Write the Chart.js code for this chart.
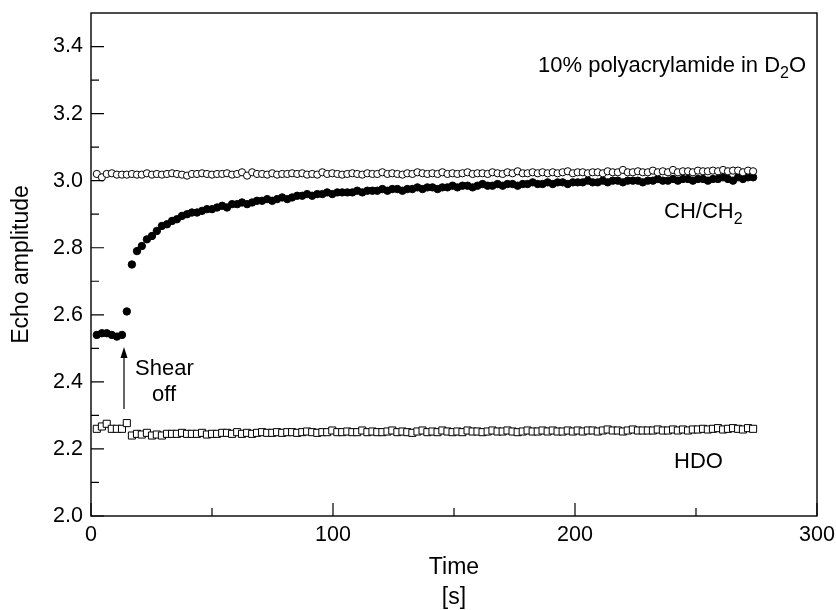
<!DOCTYPE html>
<html>
<head>
<meta charset="utf-8">
<script src="https://cdn.jsdelivr.net/npm/chart.js@4/dist/chart.umd.min.js"></script>
<style>body{margin:0;background:#fff}canvas{display:block}</style>
</head>
<body>
<canvas id="myChart" width="836" height="610"></canvas>
<script>
// sample times [s]
const times = [
  2.4, 4.5, 6.5, 8.6, 10.7, 12.8, 14.8, 16.9, 19.0, 21.0,
  23.1, 25.2, 27.2, 29.3, 31.4, 33.5, 35.5, 37.6, 39.7, 41.7,
  43.8, 45.9, 47.9, 50.0, 52.1, 54.2, 56.2, 58.3, 60.4, 62.4,
  64.5, 66.6, 68.6, 70.7, 72.8, 74.9, 76.9, 79.0, 81.1, 83.1,
  85.2, 87.3, 89.3, 91.4, 93.5, 95.6, 97.6, 99.7, 101.8, 103.8,
  105.9, 108.0, 110.0, 112.1, 114.2, 116.3, 118.3, 120.4, 122.5, 124.5,
  126.6, 128.7, 130.7, 132.8, 134.9, 137.0, 139.0, 141.1, 143.2, 145.2,
  147.3, 149.4, 151.4, 153.5, 155.6, 157.7, 159.7, 161.8, 163.9, 165.9,
  168.0, 170.1, 172.1, 174.2, 176.3, 178.4, 180.4, 182.5, 184.6, 186.6,
  188.7, 190.8, 192.8, 194.9, 197.0, 199.1, 201.1, 203.2, 205.3, 207.3,
  209.4, 211.5, 213.5, 215.6, 217.7, 219.8, 221.8, 223.9, 226.0, 228.0,
  230.1, 232.2, 234.2, 236.3, 238.4, 240.5, 242.5, 244.6, 246.7, 248.7,
  250.8, 252.9, 254.9, 257.0, 259.1, 261.2, 263.2, 265.3, 267.4, 269.4,
  271.5, 273.6
];

// open circles: CH/CH2 reference (no shear)
const chRef = [
  3.02, 3.01, 3.02, 3.022, 3.018, 3.018, 3.018, 3.02, 3.018, 3.018,
  3.022, 3.018, 3.02, 3.018, 3.02, 3.022, 3.02, 3.018, 3.015, 3.02,
  3.02, 3.022, 3.02, 3.018, 3.02, 3.02, 3.022, 3.018, 3.02, 3.025,
  3.015, 3.025, 3.02, 3.02, 3.018, 3.022, 3.018, 3.02, 3.02, 3.022,
  3.02, 3.022, 3.018, 3.02, 3.018, 3.025, 3.02, 3.022, 3.02, 3.018,
  3.02, 3.022, 3.02, 3.018, 3.022, 3.02, 3.02, 3.025, 3.02, 3.022,
  3.02, 3.018, 3.022, 3.02, 3.025, 3.022, 3.02, 3.022, 3.02, 3.025,
  3.02, 3.022, 3.02, 3.022, 3.025, 3.02, 3.022, 3.022, 3.02, 3.025,
  3.022, 3.02, 3.025, 3.022, 3.028, 3.022, 3.022, 3.025, 3.022, 3.025,
  3.022, 3.025, 3.022, 3.025, 3.028, 3.022, 3.025, 3.025, 3.022, 3.025,
  3.025, 3.022, 3.028, 3.025, 3.025, 3.032, 3.025, 3.025, 3.028, 3.025,
  3.025, 3.03, 3.025, 3.028, 3.025, 3.032, 3.025, 3.028, 3.028, 3.025,
  3.03, 3.028, 3.028, 3.03, 3.028, 3.032, 3.028, 3.03, 3.03, 3.025,
  3.03, 3.028
];

// filled circles: CH/CH2 after shear off
const chAmp = [
  2.54, 2.545, 2.545, 2.54, 2.535, 2.54, 2.61, 2.75, 2.79, 2.805,
  2.825, 2.835, 2.85, 2.865, 2.87, 2.88, 2.885, 2.895, 2.90, 2.905,
  2.905, 2.91, 2.915, 2.915, 2.92, 2.925, 2.92, 2.93, 2.93, 2.935,
  2.93, 2.935, 2.94, 2.94, 2.945, 2.94, 2.945, 2.95, 2.945, 2.95,
  2.955, 2.955, 2.96, 2.955, 2.96, 2.96, 2.965, 2.96, 2.965, 2.965,
  2.965, 2.965, 2.97, 2.965, 2.97, 2.97, 2.97, 2.975, 2.97, 2.975,
  2.975, 2.97, 2.975, 2.975, 2.98, 2.975, 2.98, 2.98, 2.975, 2.98,
  2.98, 2.985, 2.98, 2.985, 2.985, 2.98, 2.985, 2.99, 2.985, 2.985,
  2.99, 2.985, 2.99, 2.99, 2.985, 2.99, 2.99, 2.995, 2.99, 2.99,
  2.995, 2.99, 2.995, 2.995, 2.99, 2.995, 2.995, 2.995, 3.0, 2.995,
  2.995, 3.0, 2.995, 3.0, 3.0, 2.995, 3.0, 3.0, 3.0, 2.995,
  3.0, 3.0, 3.005, 3.0, 3.0, 3.005, 3.0, 3.005, 3.005, 3.0,
  3.005, 3.005, 3.0, 3.005, 3.005, 3.01, 3.005, 3.0, 3.01, 3.005,
  3.01, 3.01
];

// open squares: HDO
const hdoAmp = [
  2.26, 2.267, 2.275, 2.26, 2.26, 2.26, 2.277, 2.24, 2.245, 2.243,
  2.248, 2.24, 2.243, 2.24, 2.245, 2.245, 2.245, 2.248, 2.245, 2.245,
  2.245, 2.248, 2.243, 2.245, 2.245, 2.248, 2.248, 2.245, 2.25, 2.245,
  2.248, 2.245, 2.248, 2.25, 2.248, 2.248, 2.25, 2.248, 2.25, 2.25,
  2.248, 2.25, 2.252, 2.25, 2.248, 2.25, 2.25, 2.255, 2.25, 2.25,
  2.252, 2.25, 2.25, 2.255, 2.25, 2.252, 2.25, 2.25, 2.252, 2.255,
  2.25, 2.252, 2.25, 2.248, 2.252, 2.255, 2.25, 2.252, 2.25, 2.255,
  2.252, 2.25, 2.252, 2.25, 2.255, 2.252, 2.252, 2.25, 2.252, 2.255,
  2.252, 2.252, 2.255, 2.252, 2.25, 2.252, 2.255, 2.252, 2.252, 2.255,
  2.252, 2.255, 2.252, 2.252, 2.255, 2.252, 2.255, 2.252, 2.255, 2.255,
  2.252, 2.255, 2.258, 2.255, 2.255, 2.252, 2.255, 2.258, 2.255, 2.255,
  2.255, 2.255, 2.258, 2.255, 2.255, 2.258, 2.255, 2.258, 2.255, 2.258,
  2.258, 2.26, 2.258, 2.26, 2.262, 2.258, 2.26, 2.262, 2.26, 2.258,
  2.262, 2.26
];

const xTicks = [0, 100, 200, 300];
const xMinor = [50, 150, 250];
const yTicks = [2.0, 2.2, 2.4, 2.6, 2.8, 3.0, 3.2, 3.4];
const yMinor = [2.1, 2.3, 2.5, 2.7, 2.9, 3.1, 3.3];

const FONT = '"Liberation Sans", Arial, Helvetica, sans-serif';

function pts(ys) {
  return times.map((t, i) => ({ x: t, y: ys[i] }));
}

// text with subscripts: parts = [[text, isSub], ...]
function drawParts(ctx, parts, x, y, size) {
  let cx = x;
  parts.forEach(p => {
    const s = p[1] ? Math.round(size * 0.72) : size;
    ctx.font = s + 'px ' + FONT;
    ctx.fillText(p[0], cx, p[1] ? y + size * 0.25 : y);
    cx += ctx.measureText(p[0]).width;
  });
}

const decor = {
  id: 'decor',
  afterDraw(chart) {
    const ctx = chart.ctx;
    const a = chart.chartArea;
    const xs = chart.scales.x, ys = chart.scales.y;
    ctx.save();
    ctx.strokeStyle = '#000';
    ctx.fillStyle = '#000';

    // frame
    ctx.lineWidth = 1.4;
    ctx.strokeRect(a.left, a.top, a.right - a.left, a.bottom - a.top);

    // inward ticks
    ctx.lineWidth = 1.2;
    ctx.beginPath();
    yTicks.forEach(v => { const p = ys.getPixelForValue(v); ctx.moveTo(a.left, p); ctx.lineTo(a.left + 13, p); });
    yMinor.forEach(v => { const p = ys.getPixelForValue(v); ctx.moveTo(a.left, p); ctx.lineTo(a.left + 8, p); });
    xTicks.forEach(v => { const p = xs.getPixelForValue(v); ctx.moveTo(p, a.bottom); ctx.lineTo(p, a.bottom - 13); });
    xMinor.forEach(v => { const p = xs.getPixelForValue(v); ctx.moveTo(p, a.bottom); ctx.lineTo(p, a.bottom - 8); });
    ctx.stroke();

    // axis titles
    ctx.font = '23px ' + FONT;
    ctx.textAlign = 'center';
    ctx.textBaseline = 'middle';
    const cx = (a.left + a.right) / 2;
    ctx.fillText('Time', cx, 568);
    ctx.fillText('[s]', cx, 598);
    ctx.save();
    ctx.translate(22, (a.top + a.bottom) / 2);
    ctx.rotate(-Math.PI / 2);
    ctx.fillText('Echo amplitude', 0, 0);
    ctx.restore();

    // annotations
    ctx.textAlign = 'left';
    ctx.textBaseline = 'alphabetic';
    drawParts(ctx, [['10% polyacrylamide in D', false], ['2', true], ['O', false]], 538, 72, 22);
    drawParts(ctx, [['CH/CH', false], ['2', true]], 664, 218, 22);
    drawParts(ctx, [['HDO', false]], 674, 468, 22);
    drawParts(ctx, [['Shear', false]], 135, 375, 22);
    drawParts(ctx, [['off', false]], 152, 401, 22);

    // arrow
    ctx.lineWidth = 1.2;
    ctx.beginPath();
    ctx.moveTo(124, 409);
    ctx.lineTo(124, 352);
    ctx.stroke();
    ctx.beginPath();
    ctx.moveTo(124, 347);
    ctx.lineTo(120.5, 358);
    ctx.lineTo(127.5, 358);
    ctx.closePath();
    ctx.fill();
    ctx.restore();
  }
};

new Chart(document.getElementById('myChart'), {
  type: 'scatter',
  data: {
    datasets: [
      { label: 'CH/CH2 ref', data: pts(chRef), pointStyle: 'circle', pointRadius: 3.6,
        backgroundColor: '#fff', borderColor: '#000', borderWidth: 1 },
      { label: 'CH/CH2', data: pts(chAmp), pointStyle: 'circle', pointRadius: 3.7,
        backgroundColor: '#000', borderColor: '#000', borderWidth: 1 },
      { label: 'HDO', data: pts(hdoAmp), pointStyle: 'rect', pointRadius: 5,
        backgroundColor: '#fff', borderColor: '#000', borderWidth: 1 }
    ]
  },
  options: {
    responsive: false,
    animation: false,
    layout: { padding: { top: 13, right: 19, left: 0, bottom: 0 } },
    plugins: { legend: { display: false }, tooltip: { enabled: false } },
    scales: {
      x: {
        type: 'linear', min: 0, max: 300,
        afterBuildTicks: s => { s.ticks = xTicks.map(v => ({ value: v })); },
        afterFit: s => { s.height = 94; s.paddingLeft = 0; s.paddingRight = 0; },
        grid: { display: false, drawTicks: false },
        border: { display: false },
        ticks: { color: '#000', padding: 6, maxRotation: 0, font: { size: 21.5, family: FONT } }
      },
      y: {
        type: 'linear', min: 2.0, max: 3.5,
        afterBuildTicks: s => { s.ticks = yTicks.map(v => ({ value: v })); },
        afterFit: s => { s.width = 91; s.paddingTop = 0; s.paddingBottom = 0; },
        grid: { display: false, drawTicks: false },
        border: { display: false },
        ticks: { color: '#000', padding: 8, font: { size: 21.5, family: FONT },
          callback: v => v.toFixed(1) }
      }
    }
  },
  plugins: [decor]
});
</script>
</body>
</html>
